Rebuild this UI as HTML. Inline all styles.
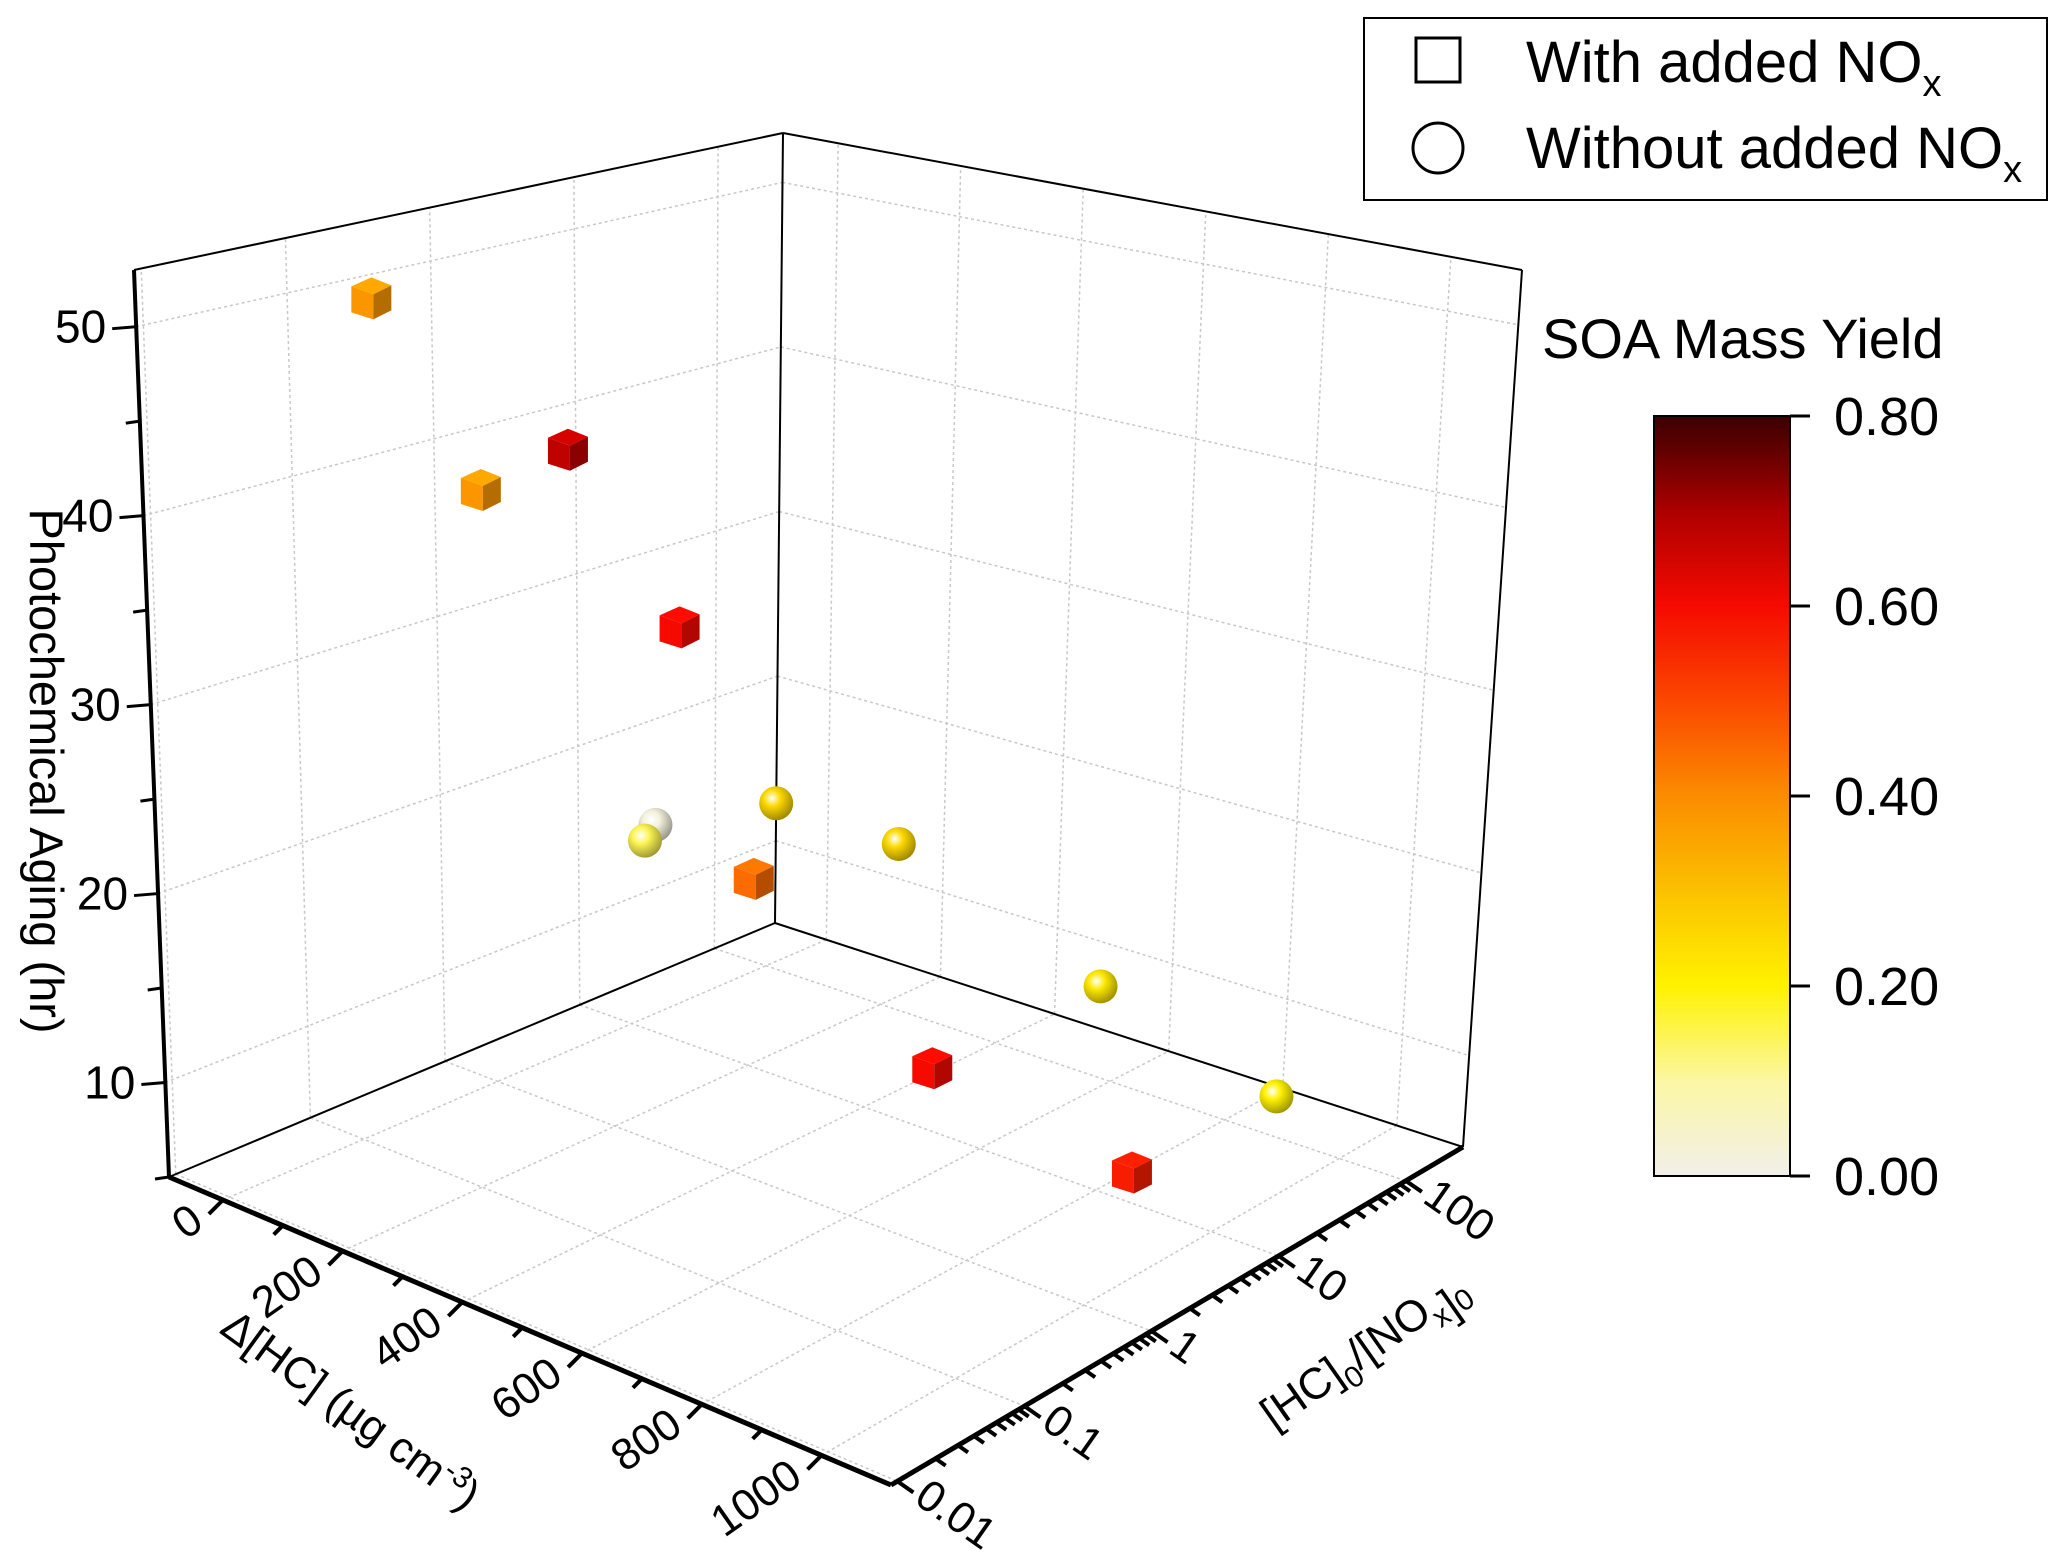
<!DOCTYPE html>
<html><head><meta charset="utf-8">
<style>
html,body{margin:0;padding:0;background:#fff;}
svg{display:block;font-family:"Liberation Sans",Arial,sans-serif;}
</style></head>
<body>
<svg id="chart" width="2067" height="1558" viewBox="0 0 2067 1558" xmlns="http://www.w3.org/2000/svg">
<defs>
<linearGradient id="cbar" x1="0" y1="1" x2="0" y2="0">
<stop offset="0" stop-color="#f2efea"/>
<stop offset="0.12" stop-color="#fbf7a8"/>
<stop offset="0.25" stop-color="#fff200"/>
<stop offset="0.38" stop-color="#fbbf00"/>
<stop offset="0.5" stop-color="#fb8c00"/>
<stop offset="0.62" stop-color="#fb4a00"/>
<stop offset="0.75" stop-color="#f60a00"/>
<stop offset="0.87" stop-color="#b00000"/>
<stop offset="1" stop-color="#3a0000"/>
</linearGradient>
</defs>
<g id="grid"></g>
<g id="frame"></g>
<g id="axes"></g>
<g id="marks"></g>

<text transform="translate(30,771) rotate(90)" text-anchor="middle" font-size="47">Photochemical Aging (hr)</text>
<text transform="translate(342,1422) rotate(36)" text-anchor="middle" font-size="44">Δ[HC] (µg cm<tspan dy="-16" font-size="30">-3</tspan><tspan dy="16">)</tspan></text>
<text transform="translate(1372,1362) rotate(-35)" text-anchor="middle" font-size="44">[HC]<tspan dy="12" font-size="30">0</tspan><tspan dy="-12">/[NO</tspan><tspan dy="12" font-size="30">x</tspan><tspan dy="0">]</tspan><tspan font-size="30">0</tspan></text>

<g>
<rect x="1364" y="18" width="683" height="182" fill="#fff" stroke="#000" stroke-width="2"/>
<rect x="1416" y="38" width="44" height="44" fill="none" stroke="#000" stroke-width="3"/>
<text x="1526" y="82" font-size="58">With added NO<tspan dy="14" font-size="38">x</tspan></text>
<circle cx="1438" cy="148" r="25" fill="none" stroke="#000" stroke-width="3"/>
<text x="1526" y="168" font-size="58">Without added NO<tspan dy="14" font-size="38">x</tspan></text>
</g>

<g>
<text x="1542" y="358" font-size="56">SOA Mass Yield</text>
<rect x="1654" y="416" width="136" height="760" fill="url(#cbar)" stroke="#000" stroke-width="2"/>
<g id="cbticks"></g>
</g>
</svg>
<script>
// ---- data ----
const hcValues    = [0, 296, 151, 477, 18, 0, 15, 597, 226, 578, 694, 887, 911];
const ratioValues = [0.16, 0.2, 0.2, 0.2, 12.6, 12.6, 100, 0.2, 100, 100, 1.6, 100, 5.9];
const agingValues = [50, 43.8, 40.6, 36, 16.3, 15.2, 14.8, 24.3, 14.6, 10.1, 13, 7.2, 8];
const yieldValues = [0.38, 0.68, 0.38, 0.60, 0.02, 0.15, 0.25, 0.45, 0.25, 0.22, 0.60, 0.20, 0.57];
const withNOx     = [1,1,1,1,0,0,0,1,0,0,1,0,1];
const xTicks = [0,200,400,600,800,1000];
const yTicks = [0.01,0.1,1,10,100];
const yTickLabels = ["0.01","0.1","1","10","100"];
const zTicks = [10,20,30,40,50];
const cbTicks = [0,0.2,0.4,0.6,0.8];
const cbTickLabels = ["0.00","0.20","0.40","0.60","0.80"];

// ---- projection ----
const X0=-90,X1=1116,LY0=-2.05,LY1=2.45,Z0=5,Z1=53;
const P={f00:[169,1177],f10:[891,1485],f01:[775,923],f11:[1463,1147],
         t00:[134,270],t10:[873,407],t01:[783,133],t11:[1522,270]};
function bil(a,b,c,d,u,v){return (1-u)*(1-v)*a+u*(1-v)*b+(1-u)*v*c+u*v*d;}
function proj(x,y,z){
  const u=(x-X0)/(X1-X0), v=(Math.log10(y)-LY0)/(LY1-LY0), w=(z-Z0)/(Z1-Z0);
  return projU(u,v,w);
}
function projU(u,v,w){
  const fx=bil(P.f00[0],P.f10[0],P.f01[0],P.f11[0],u,v), fy=bil(P.f00[1],P.f10[1],P.f01[1],P.f11[1],u,v);
  const tx=bil(P.t00[0],P.t10[0],P.t01[0],P.t11[0],u,v), ty=bil(P.t00[1],P.t10[1],P.t01[1],P.t11[1],u,v);
  return [fx+w*(tx-fx), fy+w*(ty-fy)];
}
const NS="http://www.w3.org/2000/svg";
function el(tag,attrs,parent){const e=document.createElementNS(NS,tag);for(const k in attrs)e.setAttribute(k,attrs[k]);parent.appendChild(e);return e;}
function line(a,b,parent,st){return el('line',Object.assign({x1:a[0],y1:a[1],x2:b[0],y2:b[1]},st),parent);}
const grid=document.getElementById('grid'), frame=document.getElementById('frame'), axes=document.getElementById('axes'), marks=document.getElementById('marks');
const gst={stroke:'#c8c8c8','stroke-width':1.5,'stroke-dasharray':'3,3'};
const xu=x=>(x-X0)/(X1-X0), yv=y=>(Math.log10(y)-LY0)/(LY1-LY0), zw=z=>(z-Z0)/(Z1-Z0);
// grid
xTicks.forEach(x=>{const u=xu(x);
  let g=line(projU(u,0,0),projU(u,1,0),grid,gst);
  
  
  g=line(projU(u,1,0),projU(u,1,1),grid,gst);
  
  });
yTicks.forEach(y=>{const v=yv(y);
  let g=line(projU(0,v,0),projU(1,v,0),grid,gst);
  
  
  g=line(projU(0,v,0),projU(0,v,1),grid,gst);
  
  });
zTicks.forEach(z=>{const w=zw(z);
  let g=line(projU(0,0,w),projU(0,1,w),grid,gst);
  
  
  g=line(projU(0,1,w),projU(1,1,w),grid,gst);
  
  });
// frame
const fst={stroke:'#000','stroke-width':2};
[[[0,0,0],[0,0,1]],[[0,1,0],[0,1,1]],[[1,1,0],[1,1,1]],[[0,0,1],[0,1,1]],[[0,1,1],[1,1,1]],[[0,0,0],[0,1,0]],[[0,1,0],[1,1,0]]]
 .forEach(s=>{const l=line(projU(...s[0]),projU(...s[1]),frame,fst);
  
  });
// axes lines
let ax=line(projU(0,0,0),projU(1,0,0),axes,{stroke:'#000','stroke-width':5});


ax=line(projU(1,0,0),projU(1,1,0),axes,{stroke:'#000','stroke-width':5});


ax=line(projU(0,0,0),projU(0,0,1),axes,{stroke:'#000','stroke-width':4});


const tst={stroke:'#000','stroke-width':4};
// x ticks
for(let x=0;x<=1000;x+=100){const u=xu(x),maj=x%200===0;
  const a=projU(u,0,0);
  const t=line(a,[a[0]-(maj?14:9),a[1]+(maj?14:9)],axes,tst);
  
  }
xTicks.forEach(x=>{const p=projU(xu(x),0,0);
  const t=el('text',{transform:`translate(${p[0]-26},${p[1]+14}) rotate(-35)`,'text-anchor':'end',dy:'0.35em','font-size':44},axes);
  
  
  t.textContent=x;});
// y ticks (log)
for(let e=-2;e<2;e++){for(let m=1;m<10;m++){const y=m*Math.pow(10,e);const v=yv(y);
  const a=projU(1,v,0);const L=m===1?16:10;
  const t=line(a,[a[0]+L,a[1]+L*0.7],axes,tst);
  
  }}
{const a=projU(1,yv(100),0);
  const t=line(a,[a[0]+16,a[1]+11],axes,tst);
  
  }
yTicks.forEach((y,i)=>{const p=projU(1,yv(y),0);
  const t=el('text',{transform:`translate(${p[0]+24},${p[1]+8}) rotate(35)`,'text-anchor':'start',dy:'0.35em','font-size':44},axes);
  
  
  t.textContent=yTickLabels[i];});
// z ticks
for(let z=5;z<=50;z+=5){const q=projU(0,0,zw(z));
  const t=line(q,[q[0]-(z%10===0?24:14),q[1]+2],axes,{stroke:'#000','stroke-width':3});
  
  }
zTicks.forEach(z=>{const p=projU(0,0,zw(z));
  const t=el('text',{x:p[0]-30,y:p[1]+16,'text-anchor':'end','font-size':46},axes);
  
  
  t.textContent=z;});
// colormap
const cstops=[[0,[242,239,234]],[0.1,[251,247,168]],[0.2,[255,242,0]],[0.3,[251,191,0]],[0.4,[251,140,0]],[0.5,[251,74,0]],[0.6,[246,10,0]],[0.7,[176,0,0]],[0.8,[58,0,0]]];
function cmap(val){for(let i=1;i<cstops.length;i++){if(val<=cstops[i][0]){const a=cstops[i-1],b=cstops[i],t=(val-a[0])/(b[0]-a[0]);return a[1].map((c,k)=>Math.round(c+t*(b[1][k]-c)));}}return cstops[cstops.length-1][1];}
const rgb=(c,f)=>`rgb(${c.map(v=>Math.max(0,Math.min(255,Math.round(v*f)))).join(',')})`;
// colorbar ticks
const cbg=document.getElementById('cbticks');
cbTicks.forEach((c,i)=>{const y=1176-(c/0.8)*760;
  const t=line([1790,y],[1810,y],cbg,{stroke:'#000','stroke-width':3});
  
  
  const tx=el('text',{x:1834,y:y+19,'font-size':54},cbg);
  
  
  tx.textContent=cbTickLabels[i];});
// points (draw back to front)
const order=hcValues.map((_,i)=>i).sort((a,b)=>proj(hcValues[a],ratioValues[a],agingValues[a])[1]-proj(hcValues[b],ratioValues[b],agingValues[b])[1]);
let gid=0;
const defs=document.querySelector('defs');
order.forEach(i=>{const p=proj(hcValues[i],ratioValues[i],agingValues[i]);const c=cmap(yieldValues[i]);
  if(withNOx[i]){
    const g=el('g',{},marks);
    
    
    const s=20,x=p[0],y=p[1];
    el('polygon',{points:`${x-s},${y-s*0.55} ${x},${y-s} ${x+s},${y-s*0.6} ${x+2},${y-s*0.15}`,fill:rgb(c,1.12)},g);
    el('polygon',{points:`${x-s},${y-s*0.55} ${x+2},${y-s*0.15} ${x+2},${y+s*1.1} ${x-s},${y+s*0.75}`,fill:rgb(c,1.0)},g);
    el('polygon',{points:`${x+2},${y-s*0.15} ${x+s},${y-s*0.6} ${x+s},${y+s*0.65} ${x+2},${y+s*1.1}`,fill:rgb(c,0.72)},g);
  } else {
    gid++;
    const gr=el('radialGradient',{id:'sg'+gid,cx:'0.38',cy:'0.35',r:'0.7'},defs);
    el('stop',{offset:'0','stop-color':'#ffffff'},gr);
    el('stop',{offset:'0.35','stop-color':rgb(c,1)},gr);
    el('stop',{offset:'1','stop-color':rgb(c,0.6)},gr);
    const ci=el('circle',{cx:p[0],cy:p[1],r:17,fill:`url(#sg${gid})`},marks);
    
    
  }
});
</script>
</body></html>
